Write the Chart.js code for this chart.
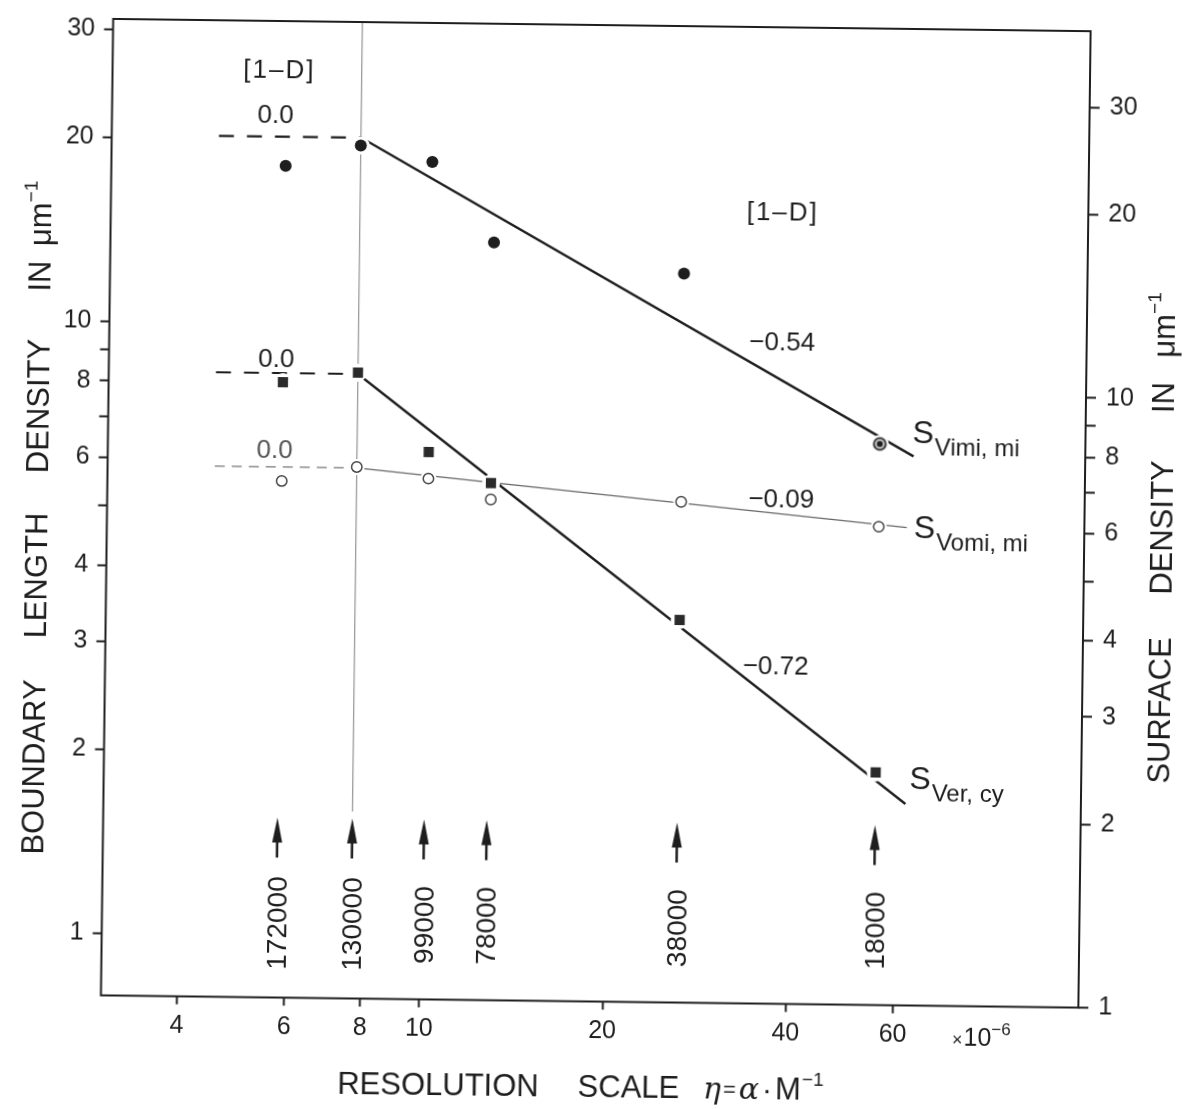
<!DOCTYPE html>
<html>
<head>
<meta charset="utf-8">
<script src="https://cdn.jsdelivr.net/npm/chart.js@4"></script>
<style>
  body { margin: 0; background: #fff; overflow: hidden; }
  /* the scanned figure is tilted a little, so the canvas is too */
  #graf { display: block; transform: rotate(0.72deg); }
</style>
</head>
<body>
<canvas id="graf" width="1187" height="1109"></canvas>
<script>
// resolution scale eta (x 10^-6) and magnification of each arrow
const eta = [5.8, 7.7, 10.1, 12.8, 26.3, 55.6];
const magnification = ['172000', '130000', '99000', '78000', '38000', '18000'];

// measured densities (left axis, um^-1)
const sVimi = [18.1, 19.6, 18.5, 13.7, 12.3, 6.54];  // filled circles
const sVer = [8.02, 8.34, 6.21, 5.54, 3.34, 1.90];   // filled squares
const sVomi = [5.53, 5.85, 5.62, 5.21, 5.21, 4.79];  // open circles

// fitted lines: flat dashed part then the sloped part
const plateauX = [4.5, 7.7];
const vimiPlateau = [20.2, 20.2];
const verPlateau = [8.3, 8.3];
const vomiPlateau = [5.83, 5.83];
const vimiFitX = [7.7, 63.2];
const vimiFit = [20.2, 6.25];
const verFitX = [7.7, 62.3];
const verFit = [8.3, 1.69];
const vomiFitX = [7.7, 61.8];
const vomiFit = [5.83, 4.78];
const markerX = [7.7, 7.7];
const markerY = [1.6, 31.2];

// axes
const xTicks = [4, 6, 8, 10, 20, 40, 60];
const yTicks = [1, 2, 3, 4, 5, 6, 7, 8, 9, 10, 20, 30];
const yLabels = [1, 2, 3, 4, 6, 8, 10, 20, 30];

const ink = '#1e1e1e';
const sans = 'Liberation Sans';

const pts = (xs, ys) => xs.map((x, i) => ({x: x, y: ys[i]}));

// circle with a dot for the last S_Vimi point
const dotRing = document.createElement('canvas');
dotRing.width = 16; dotRing.height = 16;
(function () {
  const c = dotRing.getContext('2d');
  c.beginPath(); c.arc(8, 8, 5.8, 0, Math.PI * 2);
  c.fillStyle = '#fff'; c.fill();
  c.lineWidth = 2; c.strokeStyle = ink; c.stroke();
  c.beginPath(); c.arc(8, 8, 3.2, 0, Math.PI * 2);
  c.fillStyle = ink; c.fill();
})();

// text drawn on the plot, placed in data units
const notes = [
  {t: '[1–D]', x: 5.64, y: 26.05},
  {t: '0.0', x: 5.57, y: 22.0},
  {t: '0.0', x: 5.65, y: 8.81},
  {t: '0.0', x: 5.64, y: 6.25, c: '#555'},
  {t: '[1–D]', x: 38.1, y: 15.62},
  {t: '−0.54', x: 38.25, y: 9.60},
  {t: '−0.09', x: 38.4, y: 5.31},
  {t: '−0.72', x: 37.9, y: 2.84}
];
const seriesNames = [
  {sub: 'Vimi, mi', x: 62.9, y: 6.86},
  {sub: 'Vomi, mi', x: 63.5, y: 4.81},
  {sub: 'Ver, cy', x: 63.2, y: 1.87}
];

// draws a row of text pieces [text, font, dy, gap]
function runs(ctx, x, y, parts, align) {
  let w = 0;
  parts.forEach(p => { ctx.font = p[1]; w += ctx.measureText(p[0]).width + (p[3] || 0); });
  let cx = align === 'center' ? x - w / 2 : x;
  ctx.textAlign = 'left';
  ctx.textBaseline = 'alphabetic';
  parts.forEach(p => {
    ctx.font = p[1];
    ctx.fillText(p[0], cx, y + (p[2] || 0));
    cx += ctx.measureText(p[0]).width + (p[3] || 0);
  });
}

// text reading bottom to top, (cx, cy) = middle of the capitals
function upText(ctx, parts, cx, cy, size) {
  ctx.save();
  ctx.translate(cx, cy);
  ctx.rotate(-Math.PI / 2);
  runs(ctx, 0, size * 0.364, parts, 'center');
  ctx.restore();
}

const unit = size => [
  ['μm', size + 'px ' + sans],
  ['−1', Math.round(size * 0.62) + 'px ' + sans, -size * 0.45]
];

const decor = {
  id: 'decor',
  afterDraw(chart) {
    const ctx = chart.ctx;
    const a = chart.chartArea;
    const xs = chart.scales.x, ys = chart.scales.y;
    ctx.save();
    ctx.fillStyle = ink;
    ctx.strokeStyle = ink;

    // frame
    ctx.lineWidth = 2;
    ctx.strokeRect(a.left, a.top, a.right - a.left, a.bottom - a.top);

    // arrows and magnifications
    eta.forEach((v, i) => {
      const px = xs.getPixelForValue(v);
      const tip = a.bottom - 180, tail = a.bottom - 140;
      ctx.lineWidth = 2.5;
      ctx.beginPath(); ctx.moveTo(px, tail); ctx.lineTo(px, tip + 20); ctx.stroke();
      ctx.beginPath();
      ctx.moveTo(px, tip); ctx.lineTo(px - 5, tip + 25); ctx.lineTo(px + 5, tip + 25);
      ctx.closePath(); ctx.fill();
      upText(ctx, [[magnification[i], '28px ' + sans]], px, a.bottom - 74.5, 28);
    });

    // notes
    notes.forEach(n => {
      ctx.fillStyle = n.c || ink;
      ctx.letterSpacing = n.t[0] === '[' ? '2px' : '0px';
      runs(ctx, xs.getPixelForValue(n.x), ys.getPixelForValue(n.y) + 9.5, [[n.t, '26px ' + sans]], 'center');
    });
    ctx.letterSpacing = '0px';
    ctx.fillStyle = ink;

    // series names
    seriesNames.forEach(s => {
      runs(ctx, xs.getPixelForValue(s.x), ys.getPixelForValue(s.y) + 11.7, [
        ['S', '32px ' + sans, 0, 1],
        [s.sub, '24px ' + sans, 12]
      ], 'left');
    });

    // x 10^-6
    runs(ctx, 958, 1040.5, [
      ['×', '18px ' + sans, 0, 1],
      ['10', '25px ' + sans],
      ['−6', '17px ' + sans, -11]
    ], 'left');

    // axis titles
    const t = 31;
    runs(ctx, 444.7, 1096.8, [['RESOLUTION', t + 'px ' + sans]], 'center');
    runs(ctx, 635.2, 1096.8, [['SCALE', t + 'px ' + sans]], 'center');
    runs(ctx, 709.7, 1096.8, [
      ['η', 'italic 30px DejaVu Serif', 0, 2],
      ['=', '22px ' + sans, -2, 3],
      ['α', 'italic 30px DejaVu Serif', 0, 3],
      ['·', '30px ' + sans, 0, 3],
      ['M', t + 'px ' + sans, 0, 1],
      ['−1', '19px ' + sans, -14]
    ], 'left');

    upText(ctx, [['BOUNDARY', t + 'px ' + sans]], 36, 774, t);
    upText(ctx, [['LENGTH', t + 'px ' + sans]], 36, 582.5, t);
    upText(ctx, [['DENSITY', t + 'px ' + sans]], 36, 413, t);
    upText(ctx, [['IN', t + 'px ' + sans]], 36, 283, t);
    upText(ctx, unit(t), 36, 220.4, t);

    upText(ctx, [['SURFACE', t + 'px ' + sans]], 1161, 703.4, t);
    upText(ctx, [['DENSITY', t + 'px ' + sans]], 1161, 520.4, t);
    upText(ctx, [['IN', t + 'px ' + sans]], 1161, 390.4, t);
    upText(ctx, unit(t), 1161, 317.9, t);
    ctx.restore();
  }
};

const tickFont = {family: sans, size: 25};
const logTicks = list => scale => { scale.ticks = list.map(v => ({value: v})); };

new Chart(document.getElementById('graf'), {
  type: 'scatter',
  data: {
    datasets: [
      { // S_Vimi,mi points
        data: pts(eta, sVimi),
        pointStyle: sVimi.map((v, i) => i === sVimi.length - 1 ? dotRing : 'circle'),
        pointRadius: 6,
        pointBackgroundColor: ink,
        pointBorderWidth: 0,
        order: 0
      },
      { // S_Ver,cy points
        data: pts(eta, sVer),
        pointStyle: 'rect',
        pointRadius: 7.2,
        pointBackgroundColor: '#2a2a2a',
        pointBorderWidth: 0,
        order: 0
      },
      { // S_Vomi,mi points
        data: pts(eta, sVomi),
        pointStyle: 'circle',
        pointRadius: 5.2,
        pointBackgroundColor: '#fff',
        pointBorderColor: '#444',
        pointBorderWidth: 1.5,
        order: 0
      },
      // white gaps where the lines meet the points
      {data: pts(eta, sVer), pointRadius: 9, pointBackgroundColor: '#fff', pointBorderWidth: 0, order: 1},
      {data: pts(eta, sVomi), pointRadius: 8, pointBackgroundColor: '#fff', pointBorderWidth: 0, order: 1},
      {data: pts(eta, sVimi), pointRadius: 9, pointBackgroundColor: '#fff', pointBorderWidth: 0, order: 1},
      // fitted lines
      {data: pts(plateauX, vimiPlateau), showLine: true, pointRadius: 0, borderColor: ink, borderWidth: 2.2, borderDash: [15, 13], order: 2},
      {data: pts(vimiFitX, vimiFit), showLine: true, pointRadius: 0, borderColor: ink, borderWidth: 2.4, order: 2},
      {data: pts(plateauX, verPlateau), showLine: true, pointRadius: 0, borderColor: ink, borderWidth: 2.2, borderDash: [15, 13], order: 2},
      {data: pts(verFitX, verFit), showLine: true, pointRadius: 0, borderColor: ink, borderWidth: 2.4, order: 2},
      {data: pts(plateauX, vomiPlateau), showLine: true, pointRadius: 0, borderColor: '#777', borderWidth: 1.4, borderDash: [10, 7], order: 2},
      {data: pts(vomiFitX, vomiFit), showLine: true, pointRadius: 0, borderColor: '#666', borderWidth: 1.4, order: 2},
      // vertical marker at 130000
      {data: pts(markerX, markerY), showLine: true, pointRadius: 0, borderColor: '#8a8a8a', borderWidth: 1.1, order: 3}
    ]
  },
  options: {
    responsive: false,
    animation: false,
    devicePixelRatio: 1,
    layout: {padding: {top: 16.5, left: 0, right: 0, bottom: 0}},
    plugins: {legend: {display: false}, tooltip: {enabled: false}},
    scales: {
      x: {
        type: 'logarithmic',
        min: 3,
        max: 121,
        afterBuildTicks: logTicks(xTicks),
        afterFit: s => { s.height = 107.5; },
        ticks: {font: tickFont, color: ink, padding: 7, autoSkip: false, maxRotation: 0,
          callback: v => String(v)},
        grid: {drawOnChartArea: false, tickLength: 8, tickWidth: 2, tickColor: ink},
        border: {display: false}
      },
      y: {
        type: 'logarithmic',
        position: 'left',
        min: 0.792,
        max: 31.2,
        afterBuildTicks: logTicks(yTicks),
        afterFit: s => { s.width = 106.5; },
        ticks: {font: tickFont, color: ink, padding: 9, autoSkip: false,
          callback: v => yLabels.includes(v) ? String(v) : ''},
        grid: {drawOnChartArea: false, tickLength: 9, tickWidth: 2, tickColor: ink},
        border: {display: false}
      },
      y2: {
        type: 'logarithmic',
        position: 'right',
        min: 1,
        max: 40,
        afterBuildTicks: logTicks(yTicks),
        afterFit: s => { s.width = 103; },
        ticks: {font: tickFont, color: ink, padding: 10, autoSkip: false,
          callback: v => yLabels.includes(v) ? String(v) : ''},
        grid: {drawOnChartArea: false, tickLength: 10, tickWidth: 2, tickColor: ink},
        border: {display: false}
      }
    }
  },
  plugins: [decor]
});
</script>
</body>
</html>
